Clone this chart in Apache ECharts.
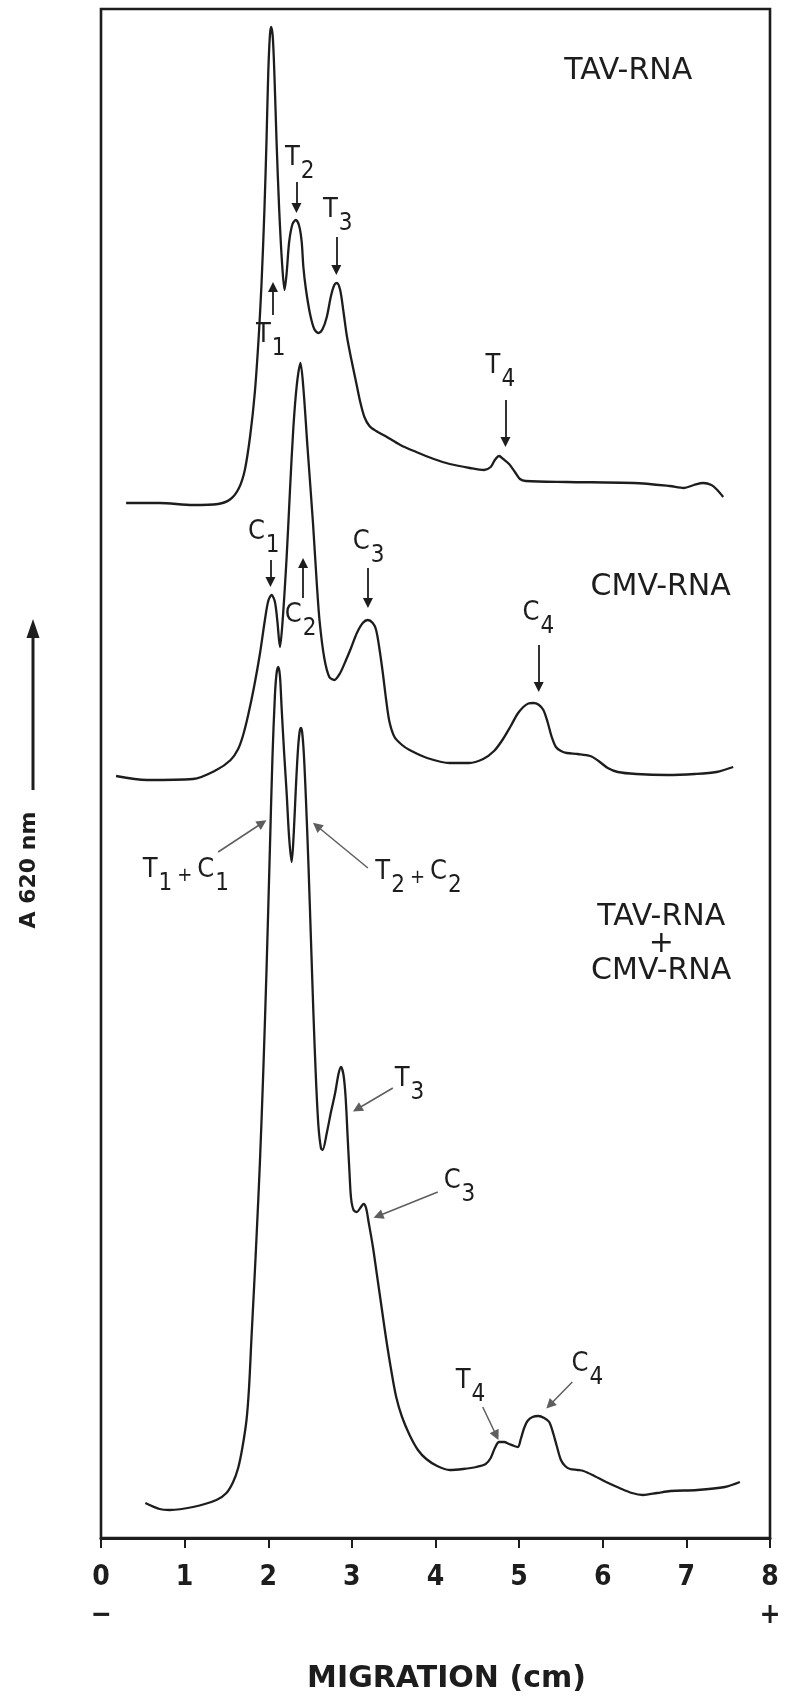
<!DOCTYPE html>
<html>
<head>
<meta charset="utf-8">
<title>TAV-RNA / CMV-RNA gel scans</title>
<script src="https://cdn.jsdelivr.net/npm/echarts@6/dist/echarts.min.js"></script>
<style>
  html, body { margin: 0; padding: 0; background: #ffffff; }
  #chart { width: 791px; height: 1704px; }
</style>
</head>
<body>
<div id="chart"></div>
<script>
// Densitometer scans of the gels: migration distance (cm) against absorbance at 620 nm.
// All three scans share one absorbance scale; each sits at its own baseline.
const tavRna = [
  [0.30,103.5],[0.70,103.5],[1.10,103.3],[1.40,103.4],[1.55,103.9],[1.65,105.0],[1.72,106.8],
  [1.785,110.3],[1.84,114.6],[1.885,120.0],[1.92,125.5],[1.955,133.0],[1.98,140.0],[2.00,146.5],
  [2.02,150.3],[2.035,151.1],[2.055,150.0],[2.075,146.0],[2.10,139.5],[2.13,133.0],[2.165,127.5],
  [2.195,124.8],[2.22,126.5],[2.25,129.6],[2.29,131.4],[2.33,131.8],[2.37,131.2],[2.40,129.6],
  [2.42,127.1],[2.45,124.9],[2.50,122.4],[2.55,120.9],[2.60,120.5],[2.65,120.9],[2.70,122.1],
  [2.75,124.2],[2.79,125.3],[2.82,125.5],[2.86,124.8],[2.90,122.6],[2.94,120.2],[2.99,118.0],
  [3.05,115.6],[3.10,113.6],[3.15,112.1],[3.21,111.2],[3.29,110.7],[3.40,110.2],[3.58,109.3],
  [3.77,108.6],[3.98,107.9],[4.17,107.4],[4.41,107.0],[4.58,106.8],[4.66,107.1],[4.71,107.8],
  [4.76,108.2],[4.81,107.9],[4.88,107.4],[4.95,106.6],[5.01,105.9],[5.08,105.7],[5.57,105.6],
  [6.37,105.5],[6.80,105.2],[6.97,105.0],[7.09,105.3],[7.20,105.5],[7.30,105.3],[7.37,104.8],
  [7.44,104.1]
];

const cmvRna = [
  [0.18,76.2],[0.55,75.8],[1.10,75.9],[1.38,76.8],[1.55,77.8],[1.64,78.9],[1.70,80.3],[1.76,82.3],
  [1.83,85.1],[1.90,88.4],[1.96,91.8],[2.00,93.7],[2.04,94.3],[2.08,93.6],[2.11,91.6],[2.14,89.1],
  [2.17,91.5],[2.22,98.1],[2.26,104.8],[2.30,111.0],[2.34,115.2],[2.385,117.5],[2.42,115.0],
  [2.47,109.0],[2.535,101.5],[2.58,95.5],[2.615,91.6],[2.67,88.0],[2.73,86.1],[2.79,85.8],
  [2.86,86.5],[2.93,87.8],[2.99,89.0],[3.06,90.5],[3.13,91.5],[3.19,91.8],[3.25,91.5],[3.29,90.8],
  [3.33,88.9],[3.37,86.5],[3.41,83.8],[3.45,81.6],[3.51,80.1],[3.60,79.3],[3.69,78.8],[3.90,78.0],
  [4.17,77.5],[4.40,77.5],[4.57,77.9],[4.70,78.7],[4.80,79.8],[4.90,81.2],[4.98,82.4],[5.05,83.1],
  [5.11,83.45],[5.17,83.5],[5.23,83.35],[5.29,82.8],[5.34,81.6],[5.39,80.1],[5.44,79.1],[5.50,78.7],
  [5.57,78.5],[5.70,78.4],[5.85,78.2],[5.95,77.7],[6.06,77.0],[6.18,76.6],[6.40,76.4],[6.77,76.3],
  [7.10,76.4],[7.36,76.6],[7.56,77.1]
];

const mixedRna = [
  [0.53,3.5],[0.70,2.9],[0.82,2.8],[1.10,3.1],[1.38,3.8],[1.50,4.5],[1.58,5.6],[1.64,7.0],
  [1.69,9.0],[1.74,11.8],[1.77,15.0],[1.80,20.1],[1.83,25.0],[1.86,30.1],[1.90,37.5],[1.94,46.5],
  [1.98,57.0],[2.02,69.0],[2.05,78.0],[2.08,84.3],[2.10,86.5],[2.12,87.1],[2.14,86.2],[2.16,83.0],
  [2.19,78.5],[2.22,74.5],[2.25,70.0],[2.28,67.6],[2.305,70.5],[2.33,75.0],[2.355,78.8],[2.375,80.6],
  [2.39,81.0],[2.405,80.6],[2.425,78.5],[2.45,74.0],[2.48,67.5],[2.51,60.0],[2.54,52.5],[2.57,46.0],
  [2.60,41.2],[2.63,39.0],[2.65,38.8],[2.70,40.5],[2.75,42.6],[2.80,44.5],[2.84,46.4],[2.87,47.1],
  [2.90,46.3],[2.925,44.1],[2.95,40.0],[2.97,36.8],[2.99,34.0],[3.02,32.8],[3.06,32.6],[3.10,33.0],
  [3.14,33.4],[3.17,33.0],[3.20,31.6],[3.25,29.2],[3.30,26.3],[3.36,22.8],[3.41,19.9],[3.47,16.8],
  [3.53,14.1],[3.60,12.1],[3.69,10.3],[3.79,8.8],[3.89,7.9],[4.02,7.2],[4.17,6.8],[4.33,6.9],
  [4.49,7.1],[4.60,7.4],[4.66,8.0],[4.71,9.0],[4.76,9.6],[4.82,9.6],[4.88,9.4],[4.94,9.2],
  [4.985,9.1],[5.02,9.9],[5.06,11.0],[5.10,11.7],[5.16,12.1],[5.23,12.2],[5.30,12.0],[5.36,11.6],
  [5.41,10.4],[5.45,9.2],[5.50,7.8],[5.55,7.2],[5.61,6.9],[5.70,6.8],[5.77,6.7],[5.90,6.2],
  [6.04,5.6],[6.20,5.0],[6.35,4.5],[6.48,4.3],[6.65,4.5],[6.81,4.7],[7.13,4.8],[7.46,5.1],
  [7.64,5.6]
];

// Migration axis ticks and the electrode polarity written under the ends.
const migrationTicks = [0, 1, 2, 3, 4, 5, 6, 7, 8];
const electrodeSigns = ['−', '', '', '', '', '', '', '', '+'];

// Band names (letter, subscript pairs), where the name sits and where its arrow runs.
const tavBands = [
  { tag: ['T', '1'], at: [2.030, 119.7], arrow: [[2.057, 122.3], [2.057, 125.1]] },
  { tag: ['T', '2'], at: [2.376, 137.4], arrow: [[2.337, 135.6], [2.337, 133.0]] },
  { tag: ['T', '3'], at: [2.830, 132.2], arrow: [[2.814, 130.1], [2.814, 126.8]] },
  { tag: ['T', '4'], at: [4.776, 116.6], arrow: [[4.836, 113.8], [4.836, 109.6]] }
];
const cmvBands = [
  { tag: ['C', '1'], at: [1.946, 100.0], arrow: [[2.026, 97.8], [2.026, 95.6]] },
  { tag: ['C', '2'], at: [2.388, 91.7], arrow: [[2.416, 94.0], [2.416, 97.5]] },
  { tag: ['C', '3'], at: [3.200, 99.0], arrow: [[3.192, 97.0], [3.192, 93.5]] },
  { tag: ['C', '4'], at: [5.230, 91.9], arrow: [[5.234, 89.3], [5.234, 85.1]] }
];
const mixedBands = [
  { tag: ['T', '1', 'C', '1'], at: [1.015, 66.2], arrow: [[1.401, 68.6], [1.928, 71.5]] },
  { tag: ['T', '2', 'C', '2'], at: [3.797, 66.0], arrow: [[3.192, 67.0], [2.581, 71.2]] },
  { tag: ['T', '3'], at: [3.690, 45.3], arrow: [[3.490, 45.0], [3.064, 42.9]] },
  { tag: ['C', '3'], at: [4.287, 35.1], arrow: [[4.027, 34.6], [3.315, 32.2]] },
  { tag: ['T', '4'], at: [4.418, 15.1], arrow: [[4.565, 13.1], [4.727, 10.25]] },
  { tag: ['C', '4'], at: [5.815, 16.8], arrow: [[5.636, 15.6], [5.367, 13.3]] }
];

// Sample names written beside each scan.
const tavTitle = { lines: ['TAV-RNA'], at: [6.305, 146.7] };
const cmvTitle = { lines: ['CMV-RNA'], at: [6.693, 95.1] };
const mixedTitle = { lines: ['TAV-RNA', '+', 'CMV-RNA'], at: [6.699, 59.4] };

const INK = '#1d1d1d';
const NARROW = "'Liberation Sans Narrow','DejaVu Sans Condensed','Liberation Sans',sans-serif";
const PLAIN = "'DejaVu Sans','Liberation Sans',sans-serif";

const labelRich = {
  m: { fontFamily: NARROW, fontSize: 27, color: INK, verticalAlign: 'top' },
  s: { fontFamily: NARROW, fontSize: 24, color: INK, padding: [15, 0, 0, 1] },
  p: { fontFamily: NARROW, fontSize: 20, color: INK, padding: [0, 5, 0, 5] },
  w: { fontFamily: PLAIN, fontSize: 30, color: INK, lineHeight: 27 },
  x: { fontFamily: PLAIN, fontSize: 30, color: INK, lineHeight: 27 }
};

function bandText(tag) {
  let out = '';
  for (let i = 0; i < tag.length; i += 2) {
    if (i > 0) out += '{p|+}';
    out += '{m|' + tag[i] + '}{s|' + tag[i + 1] + '}';
  }
  return out;
}

function titleText(lines) {
  return lines.map(l => (l === '+' ? '{x|+}' : '{w|' + l + '}')).join('\n');
}

function scanSeries(name, data, bands, title, arrowColor, arrowWidth) {
  return {
    name: name,
    type: 'line',
    data: data,
    smooth: 0.3,
    showSymbol: false,
    symbol: 'none',
    silent: true,
    lineStyle: { color: INK, width: 2.3 },
    emphasis: { disabled: true },
    markPoint: {
      silent: true,
      animation: false,
      symbol: 'circle',
      symbolSize: 1,
      itemStyle: { color: 'rgba(0,0,0,0)' },
      emphasis: { disabled: true },
      label: { show: true, position: 'inside', rich: labelRich },
      data: bands.map(b => ({ coord: b.at, label: { formatter: bandText(b.tag) } }))
        .concat([{ coord: title.at, label: { formatter: titleText(title.lines) } }])
    },
    markLine: {
      silent: true,
      animation: false,
      symbol: ['none', 'triangle'],
      symbolSize: 10,
      emphasis: { disabled: true },
      label: { show: false },
      lineStyle: { type: 'solid', color: arrowColor, width: arrowWidth },
      itemStyle: { color: arrowColor },
      data: bands.map(b => [{ coord: b.arrow[0] }, { coord: b.arrow[1] }])
    }
  };
}

const chart = echarts.init(document.getElementById('chart'), null, { renderer: 'canvas' });

chart.setOption({
  animation: false,
  backgroundColor: '#ffffff',
  grid: {
    left: 101, right: 21, top: 9, bottom: 166,
    show: true, borderColor: INK, borderWidth: 2.6
  },
  xAxis: {
    type: 'value',
    min: migrationTicks[0],
    max: migrationTicks[migrationTicks.length - 1],
    interval: 1,
    splitLine: { show: false },
    axisLine: { lineStyle: { color: INK, width: 3 } },
    axisTick: { show: true, inside: false, length: 10, lineStyle: { color: INK, width: 2 } },
    axisLabel: {
      show: true,
      margin: 21,
      showMinLabel: true,
      showMaxLabel: true,
      hideOverlap: false,
      formatter: function (v) {
        const i = migrationTicks.indexOf(v);
        const sign = electrodeSigns[i];
        return '{d|' + v + '}' + (sign ? '\n{s|' + sign + '}' : '');
      },
      rich: {
        d: { fontFamily: NARROW, fontWeight: 'bold', fontSize: 28, color: INK, lineHeight: 38 },
        s: { fontFamily: NARROW, fontWeight: 'bold', fontSize: 28, color: INK, lineHeight: 38 }
      }
    },
    name: 'MIGRATION (cm)',
    nameLocation: 'middle',
    nameGap: 126,
    nameTextStyle: {
      fontFamily: PLAIN, fontWeight: 'bold', fontSize: 30, color: INK,
      padding: [0, 0, 0, 22]
    }
  },
  yAxis: {
    type: 'value',
    min: 0,
    max: 152.9,
    show: false
  },
  graphic: [
    {
      type: 'text',
      x: 29, y: 870,
      rotation: Math.PI / 2,
      style: {
        text: 'A 620 nm',
        fontFamily: PLAIN, fontWeight: 'bold', fontSize: 22,
        fill: INK, align: 'center', verticalAlign: 'middle'
      },
      silent: true
    },
    {
      type: 'line',
      shape: { x1: 33, y1: 790, x2: 33, y2: 634 },
      style: { stroke: INK, lineWidth: 3 },
      silent: true
    },
    {
      type: 'polygon',
      shape: { points: [[33, 619], [26.5, 638], [39.5, 638]] },
      style: { fill: INK },
      silent: true
    }
  ],
  series: [
    scanSeries('TAV-RNA', tavRna, tavBands, tavTitle, INK, 1.8),
    scanSeries('CMV-RNA', cmvRna, cmvBands, cmvTitle, INK, 1.8),
    scanSeries('TAV-RNA + CMV-RNA', mixedRna, mixedBands, mixedTitle, '#5e5e5e', 1.5)
  ]
});
</script>
</body>
</html>
